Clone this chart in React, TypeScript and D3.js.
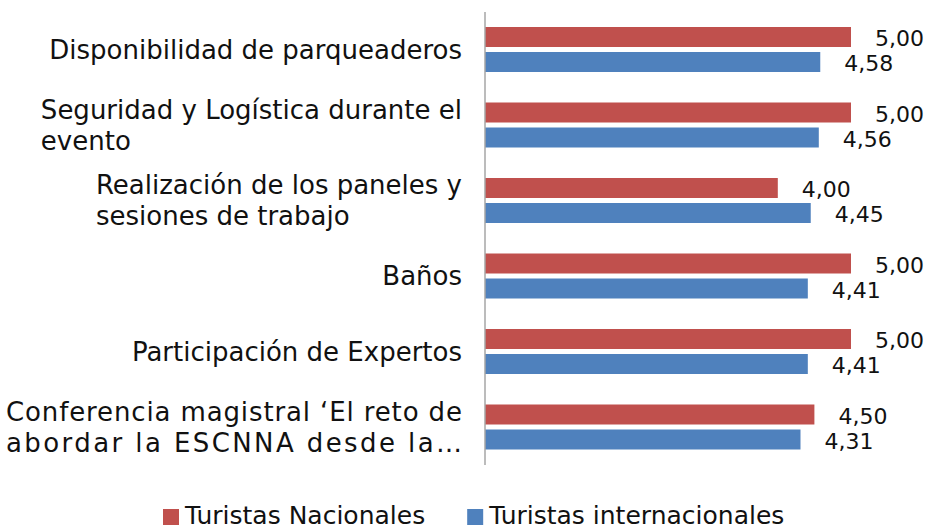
import React from "react";
import * as d3 from "d3";

const categoryLines: string[][] = [
  ["Disponibilidad de parqueaderos"],
  ["Seguridad y Logística durante el", "evento"],
  ["Realización de los paneles y", "sesiones de trabajo"],
  ["Baños"],
  ["Participación de Expertos"],
  ["Conferencia magistral ‘El reto de", "abordar la ESCNNA desde la…"],
];
const justifyAll = [false, false, false, false, false, true];
const seriesNames = ["Turistas Nacionales", "Turistas internacionales"];
const nacionales = [5.0, 5.0, 4.0, 5.0, 5.0, 4.5];
const internacionales = [4.58, 4.56, 4.45, 4.41, 4.41, 4.31];
const seriesColors = ["#C0504D", "#4F81BD"];

const W = 927;
const H = 529;
const FONT = "'DejaVu Sans', sans-serif";
const CAT_FS = 26;
const VAL_FS = 22;
const LEG_FS = 25;

let ctx: CanvasRenderingContext2D | null = null;
function measure(text: string, fs: number) {
  if (!ctx) ctx = document.createElement("canvas").getContext("2d");
  if (!ctx) return text.length * fs * 0.6;
  ctx.font = `${fs}px ${FONT}`;
  return ctx.measureText(text).width;
}

export default function App() {
  const cats = categoryLines.map((l) => l.join(" "));
  const x = d3.scaleLinear().domain([0, 5]).range([485, 851]);
  const y = d3.scaleBand<string>().domain(cats).range([12, 465]).padding(0);
  const sub = d3
    .scaleBand<string>()
    .domain(["nac", "int"])
    .range([15, 60])
    .paddingInner(0.2);
  const fmt = (v: number) => d3.format(".2f")(v).replace(".", ",");
  const series = [
    { key: "nac", values: nacionales, color: seriesColors[0] },
    { key: "int", values: internacionales, color: seriesColors[1] },
  ];
  const labelRight = 462;
  const labelLeft = 6;
  const lineH = 31;
  const capHalf = 9;

  // legend layout
  const legStart = 163;
  const sq = 16;
  const w0 = measure(seriesNames[0], LEG_FS);
  const leg1X = legStart + sq + 6 + w0 + 42;

  return (
    <svg
      width={W}
      height={H}
      style={{ position: "absolute", left: 0, top: 0, background: "#fff" }}
      fontFamily={FONT}
    >
      {cats.map((c, i) => {
        const y0 = y(c)!;
        return (
          <g key={c}>
            {series.map((s) => (
              <g key={s.key}>
                <rect
                  x={x(0)}
                  y={y0 + sub(s.key)!}
                  width={x(s.values[i]) - x(0)}
                  height={sub.bandwidth()}
                  fill={s.color}
                />
                <text
                  x={x(s.values[i]) + 24}
                  y={y0 + sub(s.key)! + sub.bandwidth() / 2 + 9}
                  fontSize={VAL_FS}
                  fill="#111"
                >
                  {fmt(s.values[i])}
                </text>
              </g>
            ))}
          </g>
        );
      })}
      <line x1={485} x2={485} y1={12} y2={465} stroke="#A6A6A6" strokeWidth={1.5} />
      {categoryLines.map((lines, i) => {
        const c = cats[i];
        const center = y(c)! + y.bandwidth() / 2;
        const widths = lines.map((l) => measure(l, CAT_FS));
        const blockW = justifyAll[i] ? labelRight - labelLeft : Math.max(...widths);
        const left = labelRight - blockW;
        const n = lines.length;
        return (
          <g key={c}>
            {lines.map((l, j) => {
              const base = center - ((n - 1) * lineH) / 2 + j * lineH + capHalf;
              const justify = justifyAll[i] || (n > 1 && j < n - 1);
              return (
                <text
                  key={j}
                  x={left}
                  y={base}
                  fontSize={CAT_FS}
                  fill="#111"
                  textLength={justify ? blockW : undefined}
                  lengthAdjust={justify ? "spacing" : undefined}
                >
                  {l}
                </text>
              );
            })}
          </g>
        );
      })}
      {/* legend */}
      <rect x={legStart} y={509} width={sq} height={sq} fill={seriesColors[0]} />
      <text x={legStart + sq + 6} y={524} fontSize={LEG_FS} fill="#111">
        {seriesNames[0]}
      </text>
      <rect x={leg1X} y={509} width={sq} height={sq} fill={seriesColors[1]} />
      <text x={leg1X + sq + 6} y={524} fontSize={LEG_FS} fill="#111">
        {seriesNames[1]}
      </text>
    </svg>
  );
}
